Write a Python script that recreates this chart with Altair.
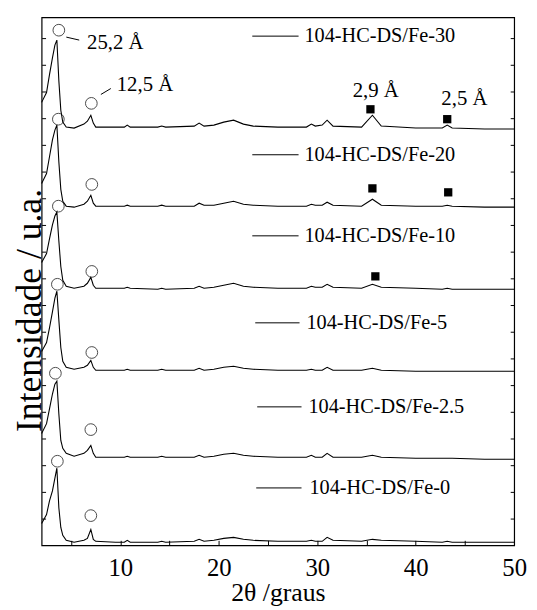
import altair as alt
import pandas as pd

FONT = "Liberation Serif"

# 2theta sampling positions (degrees)
two_theta = [2.0, 2.5, 2.8, 3.1, 3.35, 3.55, 3.75, 3.95, 4.15, 4.5,
             5.3, 6.3, 6.65, 7.0, 7.25, 7.5, 9.5, 10.4, 10.7, 11.0,
             13.8, 14.2, 14.6, 17.5, 18.0, 18.5, 19.5, 20.5, 21.5, 22.5,
             23.5, 26.0, 28.9, 29.4, 29.8, 30.5, 31.0, 31.6, 34.5, 35.6,
             36.5, 40.0, 42.7, 43.2, 43.7, 47.0, 50.0]

# stacked intensities (a.u.) for each sample
fe30 = [448, 458, 476, 493, 506, 511, 470, 440, 428, 423,
        422, 426, 429, 435, 427, 423, 423, 423, 425, 423,
        423, 424, 423, 424, 427, 424, 425, 428, 430, 426,
        424, 423, 423, 426, 424, 425, 430, 424, 423, 435,
        424, 422, 422, 425, 422, 421, 421]
fe20 = [366, 376, 393, 410, 420, 425, 388, 360, 348, 343,
        342, 345, 348, 354, 346, 343, 343, 343, 344, 343,
        343, 344, 343, 343, 346, 344, 344, 346, 348, 345,
        344, 343, 343, 345, 344, 344, 347, 344, 343, 350,
        344, 343, 343, 344, 343, 342, 342]
fe10 = [286, 295, 310, 324, 333, 337, 308, 282, 268, 262,
        260, 262, 265, 271, 263, 260, 260, 260, 261, 260,
        259, 260, 259, 260, 262, 260, 261, 263, 265, 262,
        261, 260, 260, 262, 261, 261, 264, 261, 260, 264,
        261, 260, 259, 260, 259, 259, 259]
fe5 = [196, 205, 220, 236, 250, 257, 228, 200, 186, 180,
       178, 180, 182, 187, 180, 177, 177, 177, 178, 177,
       177, 178, 177, 177, 179, 177, 178, 180, 181, 179,
       178, 177, 177, 178, 177, 177, 180, 177, 177, 179,
       177, 176, 176, 176, 176, 176, 176]
fe25 = [113, 123, 138, 153, 163, 166, 133, 106, 98, 93,
        90, 93, 96, 101, 93, 89, 89, 89, 90, 89,
        89, 90, 89, 89, 91, 89, 90, 92, 93, 91,
        90, 89, 89, 91, 89, 89, 93, 89, 89, 91,
        89, 88, 88, 88, 88, 87, 87]
fe0 = [22, 31, 45, 55, 68, 78, 38, 18, 10, 5,
       3, 5, 7, 16, 6, 4, 3, 3, 5, 3,
       3, 4, 3, 4, 6, 4, 5, 7, 8, 6,
       5, 4, 4, 5, 4, 4, 8, 5, 4, 6,
       5, 4, 3, 4, 3, 3, 3]

samples = ["104-HC-DS/Fe-30", "104-HC-DS/Fe-20", "104-HC-DS/Fe-10",
           "104-HC-DS/Fe-5", "104-HC-DS/Fe-2.5", "104-HC-DS/Fe-0"]
series = [fe30, fe20, fe10, fe5, fe25, fe0]

# label positions (line start, line end, text start, level)
label_x1 = [23.4, 23.4, 23.4, 23.7, 23.9, 23.8]
label_x2 = [28.1, 28.1, 28.1, 28.2, 28.4, 28.4]
label_tx = [28.7, 28.7, 28.7, 28.9, 29.1, 29.2]
label_y = [515, 395, 313, 225, 140, 58]

# open circles (layered phase reflections)
circle_x = [3.75, 7.05, 3.7, 7.1, 3.7, 7.1, 3.6, 7.1, 3.4, 7.0, 3.6, 7.0]
circle_y = [521, 447, 431, 365, 343, 277, 264, 195, 174, 117, 85, 30]

# filled squares (iron oxide reflections)
square_x = [35.4, 43.2, 35.6, 43.3, 35.9]
square_y = [441, 431, 361, 357, 272]

# d-spacing annotations
ann_text = ["25,2 Å", "12,5 Å", "2,9 Å", "2,5 Å"]
ann_x = [6.62, 9.63, 33.6, 42.6]
ann_y = [502, 460, 453, 445]
lead_x1 = [4.51, 8.02]
lead_x2 = [5.82, 9.03]
lead_y1 = [514, 456]
lead_y2 = [511, 462]

x_ticks_major = [10, 20, 30, 40, 50]
x_ticks_all = [5, 10, 15, 20, 25, 30, 35, 40, 45]
y_ticks = [27, 54, 81, 108, 135, 162, 189, 216, 243, 270, 297, 324, 351,
           378, 405, 432, 459, 486, 513]

rows = []
for name, vals in zip(samples, series):
    for i, (tx, v) in enumerate(zip(two_theta, vals)):
        rows.append({"sample": name, "x": tx, "y": v, "i": i})
df = pd.DataFrame(rows)

labels_df = pd.DataFrame({"sample": samples, "x1": label_x1, "x2": label_x2,
                          "tx": label_tx, "y": label_y})
circ_df = pd.DataFrame({"x": circle_x, "y": circle_y})
sq_df = pd.DataFrame({"x": square_x, "y": square_y})
ann_df = pd.DataFrame({"t": ann_text, "x": ann_x, "y": ann_y})
lead_df = pd.DataFrame({"x1": lead_x1, "x2": lead_x2, "y1": lead_y1, "y2": lead_y2})

xs = alt.Scale(domain=[2, 50], nice=False, zero=False)
ys = alt.Scale(domain=[0, 534], nice=False, zero=False)

lines = alt.Chart(df).mark_line(color="black", strokeWidth=1.1).encode(
    x=alt.X("x:Q", scale=xs, axis=alt.Axis(
        orient="bottom", values=x_ticks_major, ticks=False, tickSize=0,
        domain=False, grid=False, labelFont=FONT, labelFontSize=25,
        labelColor="black", labelPadding=31, labelBaseline="alphabetic",
        labelFlush=False, title="2θ /graus", titleFont=FONT, titleFontSize=26,
        titleFontWeight="normal", titleColor="black", titleY=56,
        titleBaseline="alphabetic")),
    y=alt.Y("y:Q", scale=ys, axis=alt.Axis(
        orient="left", labels=False, ticks=False, domain=False, grid=False,
        title="Intensidade / u.a.", titleFont=FONT, titleFontSize=36,
        titleFontWeight="normal", titleColor="black", titleAngle=270,
        titleX=-1.5, titleY=296, titleAlign="center",
        titleBaseline="alphabetic")),
    detail="sample:N",
    order="i:Q",
)

circles = alt.Chart(circ_df).mark_point(
    shape="circle", filled=False, size=140, stroke="black", strokeWidth=1
).encode(
    x=alt.X("x:Q", scale=xs, axis=alt.Axis(
        orient="top", offset=-534, values=x_ticks_all, labels=False,
        domain=False, grid=False, ticks=True, tickSize=5, tickColor="black",
        title=None)),
    y=alt.Y("y:Q", scale=ys, axis=alt.Axis(
        orient="right", offset=-478, values=y_ticks, labels=False,
        domain=False, grid=False, ticks=True, tickSize=4, tickColor="black",
        title=None)),
)

squares = alt.Chart(sq_df).mark_square(size=70, color="black", opacity=1).encode(
    x=alt.X("x:Q", scale=xs, axis=None),
    y=alt.Y("y:Q", scale=ys, axis=alt.Axis(
        orient="left", offset=-478, values=y_ticks, labels=False,
        domain=False, grid=False, ticks=True, tickSize=4, tickColor="black",
        title=None)),
)

leg_rules = alt.Chart(labels_df).mark_rule(color="black", strokeWidth=1).encode(
    x=alt.X("x1:Q", scale=xs, axis=None),
    x2="x2:Q",
    y=alt.Y("y:Q", scale=ys, axis=None),
)

leg_text = alt.Chart(labels_df).mark_text(
    align="left", baseline="middle", font=FONT, fontSize=20.5, color="black"
).encode(
    x=alt.X("tx:Q", scale=xs, axis=None),
    y=alt.Y("y:Q", scale=ys, axis=None),
    text="sample:N",
)

ann = alt.Chart(ann_df).mark_text(
    align="left", baseline="alphabetic", font=FONT, fontSize=21, color="black"
).encode(
    x=alt.X("x:Q", scale=xs, axis=None),
    y=alt.Y("y:Q", scale=ys, axis=None),
    text="t:N",
)

leads = alt.Chart(lead_df).mark_rule(color="black", strokeWidth=1).encode(
    x=alt.X("x1:Q", scale=xs, axis=None),
    x2="x2:Q",
    y=alt.Y("y1:Q", scale=ys, axis=None),
    y2="y2:Q",
)

chart = alt.layer(
    lines, circles, squares, leg_rules, leg_text, ann, leads
).resolve_axis(
    x="independent", y="independent"
).properties(
    width=478, height=534,
    autosize=alt.AutoSizeParams(type="none"),
    padding={"left": 34, "top": 6, "right": 15, "bottom": 60},
).configure_view(stroke="black", strokeWidth=1.2)

chart.save("out.html", embed_options={"renderer": "svg", "actions": False})
